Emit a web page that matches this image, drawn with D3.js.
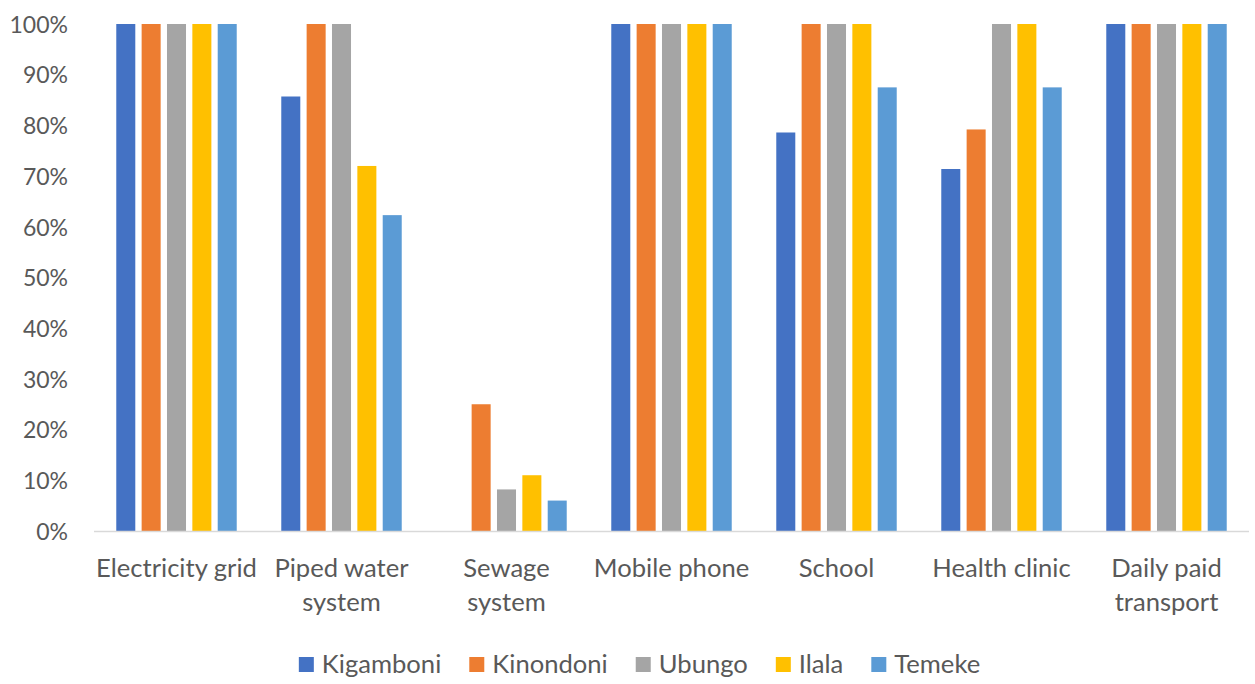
<!DOCTYPE html>
<html>
<head>
<meta charset="utf-8">
<script src="https://cdn.jsdelivr.net/npm/d3@7"></script>
<style>
  html, body { margin: 0; padding: 0; background: #fff; }
  svg { display: block; }
  text { font-family: Lato, "Open Sans", sans-serif; fill: #595959; }
</style>
</head>
<body>
<svg id="chart" width="1255" height="684"></svg>
<script>
// Access to services, share of respondents per district
const categories = [
  ["Electricity grid"],
  ["Piped water", "system"],
  ["Sewage", "system"],
  ["Mobile phone"],
  ["School"],
  ["Health clinic"],
  ["Daily paid", "transport"]
];
const districts = ["Kigamboni", "Kinondoni", "Ubungo", "Ilala", "Temeke"];
const colors = ["#4472C4", "#ED7D31", "#A5A5A5", "#FFC000", "#5B9BD5"];

const kigamboni = [100, 85.7, 0, 100, 78.6, 71.4, 100];
const kinondoni = [100, 100, 25, 100, 100, 79.2, 100];
const ubungo    = [100, 100, 8.2, 100, 100, 100, 100];
const ilala     = [100, 72.0, 11.0, 100, 100, 100, 100];
const temeke    = [100, 62.3, 6.0, 100, 87.5, 87.5, 100];
const seriesValues = [kigamboni, kinondoni, ubungo, ilala, temeke];

const yTicks = [0, 10, 20, 30, 40, 50, 60, 70, 80, 90, 100];

const svg = d3.select("#chart");
const W = 1255;
const plotLeft = 94, plotRight = 1249;

const catKeys = categories.map(c => c.join(" "));
const x0 = d3.scaleBand()
  .domain(catKeys)
  .range([plotLeft, plotRight])
  .paddingInner(0.27)
  .paddingOuter(0.135);
const x1 = d3.scaleBand()
  .domain(districts)
  .range([0, x0.bandwidth()])
  .paddingInner(0.25);
const y = d3.scaleLinear().domain([0, 100]).range([531, 24]);

// Bars
const groups = svg.append("g").selectAll("g")
  .data(catKeys)
  .join("g")
  .attr("transform", d => `translate(${x0(d)},0)`);

groups.selectAll("rect")
  .data((d, i) => districts.map((name, s) => ({ name, s, v: seriesValues[s][i] })))
  .join("rect")
  .attr("x", d => x1(d.name))
  .attr("width", x1.bandwidth())
  .attr("y", d => y(d.v))
  .attr("height", d => y(0) - y(d.v))
  .attr("fill", d => colors[d.s]);

// Baseline
svg.append("line")
  .attr("x1", plotLeft).attr("x2", plotRight)
  .attr("y1", y(0) + 0.5).attr("y2", y(0) + 0.5)
  .attr("stroke", "#d9d9d9").attr("stroke-width", 1.5);

// Y axis labels
const yAxis = d3.axisLeft(y).tickValues(yTicks).tickFormat(d => d + "%").tickSize(0).tickPadding(0);
const ya = svg.append("g").attr("transform", "translate(68,0)").call(yAxis);
ya.select(".domain").remove();
ya.selectAll("text")
  .style("font-size", "23px")
  .style("font-family", "Lato, 'Open Sans', sans-serif")
  .attr("fill", "#595959")
  .attr("dy", "0.36em");

// Category labels
const xl = svg.append("g");
categories.forEach((lines, i) => {
  const cx = x0(catKeys[i]) + x0.bandwidth() / 2;
  const t = xl.append("text")
    .attr("text-anchor", "middle")
    .style("font-size", "25.6px");
  lines.forEach((ln, j) => {
    t.append("tspan").attr("x", cx).attr("y", 577 + j * 34).text(ln);
  });
});

// Legend
const legend = svg.append("g");
const items = legend.selectAll("g").data(districts).join("g");
items.append("rect")
  .attr("width", 15).attr("height", 15)
  .attr("y", -7.5)
  .attr("fill", (d, i) => colors[i]);
items.append("text")
  .attr("x", 23).attr("y", 8)
  .style("font-size", "25.6px")
  .text(d => d);
let cursor = 0;
const gap = 28;
const widths = [];
items.each(function () { widths.push(this.getBBox().width); });
items.attr("transform", (d, i) => {
  const tx = cursor;
  cursor += widths[i] + gap;
  return `translate(${tx},0)`;
});
const total = cursor - gap;
legend.attr("transform", `translate(${639.5 - total / 2},664.5)`);
</script>
</body>
</html>
